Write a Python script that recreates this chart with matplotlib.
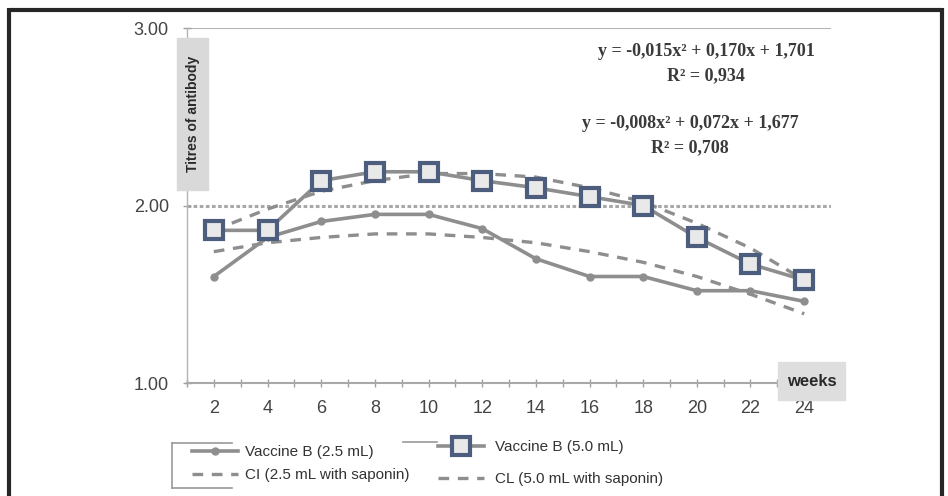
import matplotlib.pyplot as plt
from matplotlib.lines import Line2D
from matplotlib.patches import Rectangle

plt.rcParams['font.family'] = ['Liberation Sans', 'DejaVu Sans']

# weeks after vaccination
weeks = [2, 4, 6, 8, 10, 12, 14, 16, 18, 20, 22, 24]

# antibody titres
vaccine_b_25 = [1.60, 1.82, 1.91, 1.95, 1.95, 1.87, 1.70, 1.60, 1.60, 1.52, 1.52, 1.46]
vaccine_b_50 = [1.86, 1.86, 2.14, 2.19, 2.19, 2.14, 2.10, 2.05, 2.00, 1.82, 1.67, 1.58]
cl_50_saponin = [1.86, 1.98, 2.08, 2.14, 2.18, 2.18, 2.16, 2.10, 2.02, 1.90, 1.76, 1.58]
ci_25_saponin = [1.74, 1.79, 1.82, 1.84, 1.84, 1.82, 1.79, 1.74, 1.68, 1.60, 1.50, 1.39]

eq_top = ['y = -0,015x\u00b2 + 0,170x + 1,701', 'R\u00b2 = 0,934']
eq_bottom = ['y = -0,008x\u00b2 + 0,072x + 1,677', 'R\u00b2 = 0,708']

W, H = 948, 496
fig = plt.figure(figsize=(9.48, 4.96), dpi=100)
ax = fig.add_axes([187 / W, 1 - 383 / H, (831 - 187) / W, (383 - 28) / H])

line_c = '#8e8e8e'
sq_c = '#4d5d7e'

ax.axhline(3.0, color='#b4b4b4', lw=1.5, zorder=1)
ax.axhline(2.0, color='#a8a8a8', lw=2.2, ls=(0, (1.2, 0.8)), zorder=1)

ax.plot(weeks, ci_25_saponin, color=line_c, lw=2.4, dashes=(3.2, 2.6), zorder=2)
ax.plot(weeks, vaccine_b_25, color=line_c, lw=2.6, marker='o', ms=5, zorder=3)
ax.plot(weeks, cl_50_saponin, color=line_c, lw=2.4, dashes=(3.2, 2.6), zorder=2)
ax.plot(weeks, vaccine_b_50, color=line_c, lw=2.6, marker='s', ms=13,
        mec=sq_c, mew=3, mfc='#e9e9e9', zorder=4)

ax.set_xlim(1, 25)
ax.set_ylim(1, 3)
ax.set_xticks(weeks)
ax.set_xticks(range(1, 26, 2), minor=True)
ax.set_yticks([1, 2, 3])
ax.set_yticklabels(['1.00', '2.00', '3.00'])
ax.tick_params(axis='x', which='both', direction='inout', length=6, width=1,
               color='#a0a0a0', pad=9, labelsize=13, labelcolor='#444444')
ax.tick_params(axis='y', direction='inout', length=6, width=1,
               color='#a0a0a0', pad=10, labelsize=13, labelcolor='#444444')
for s in ['top', 'right']:
    ax.spines[s].set_visible(False)
ax.spines['bottom'].set_color('#a8a8a8')
ax.spines['bottom'].set_linewidth(1.5)
ax.spines['left'].set_color('#b4b4b4')
ax.spines['left'].set_linewidth(1.0)

# axis title boxes
fig.add_artist(Rectangle((177 / W, 1 - 190 / H), 31 / W, 152 / H,
                         transform=fig.transFigure, color='#d9d9d9', zorder=5))
fig.text(192.5 / W, 1 - 114 / H, 'Titres of antibody', rotation=90,
         ha='center', va='center', fontsize=10, fontweight='bold',
         color='#2a2a2a', zorder=6)
fig.add_artist(Rectangle((778 / W, 1 - 400 / H), 67 / W, 38 / H,
                         transform=fig.transFigure, color='#dedede', zorder=5))
fig.text(812 / W, 1 - 381 / H, 'weeks', ha='center', va='center',
         fontsize=12, fontweight='bold', color='#2a2a2a', zorder=6)

# regression equations
eq_font = dict(family=['Liberation Serif', 'DejaVu Serif'], fontweight='bold',
               fontsize=13, color='#3a3a3a', ha='center', va='center')
fig.text(706 / W, 1 - 52 / H, eq_top[0], **eq_font)
fig.text(706 / W, 1 - 76 / H, eq_top[1], **eq_font)
fig.text(690 / W, 1 - 124 / H, eq_bottom[0], **eq_font)
fig.text(690 / W, 1 - 148 / H, eq_bottom[1], **eq_font)

# legend
h1 = Line2D([], [], color=line_c, lw=2.6, marker='o', ms=5)
h2 = Line2D([], [], color=line_c, lw=2.4, dashes=(3.2, 2.6))
h3 = Line2D([], [], color=line_c, lw=2.6, marker='s', ms=13, mec=sq_c,
            mew=3, mfc='#e9e9e9')
leg_font = {'size': 11}
leg1 = fig.legend([h1, h2], ['Vaccine B (2.5 mL)', 'CI (2.5 mL with saponin)'],
                  loc='upper left', bbox_to_anchor=(192 / W, 1 - 445 / H),
                  frameon=False, prop=leg_font, handlelength=3.0,
                  handletextpad=0.5, labelspacing=0.6, borderpad=0,
                  borderaxespad=0, labelcolor='#333333')
leg2 = fig.legend([h3, h2], ['Vaccine B (5.0 mL)', 'CL (5.0 mL with saponin)'],
                  loc='upper left', bbox_to_anchor=(438 / W, 1 - 440 / H),
                  frameon=False, prop=leg_font, handlelength=3.0,
                  handletextpad=0.7, labelspacing=1.2, borderpad=0,
                  borderaxespad=0, labelcolor='#333333')

# leftover frame strokes around the legend
frame_kw = dict(transform=fig.transFigure, color='#9a9a9a', lw=1.2)
fig.add_artist(Line2D([172 / W, 232 / W], [1 - 443 / H, 1 - 443 / H], **frame_kw))
fig.add_artist(Line2D([172 / W, 172 / W], [1 - 443 / H, 1 - 488 / H], **frame_kw))
fig.add_artist(Line2D([172 / W, 232 / W], [1 - 488 / H, 1 - 488 / H], **frame_kw))
fig.add_artist(Line2D([403 / W, 437 / W], [1 - 442 / H, 1 - 442 / H], **frame_kw))

# outer border
border_kw = dict(transform=fig.transFigure, color='#262626', lw=3,
                 solid_capstyle='butt')
fig.add_artist(Line2D([9 / W, 943 / W], [1 - 9.5 / H, 1 - 9.5 / H], **border_kw))
fig.add_artist(Line2D([9 / W, 9 / W], [1 - 8 / H, 0], **border_kw))
fig.add_artist(Line2D([942 / W, 942 / W], [1 - 8 / H, 0], **border_kw))

fig.savefig('out.png', dpi=100)
